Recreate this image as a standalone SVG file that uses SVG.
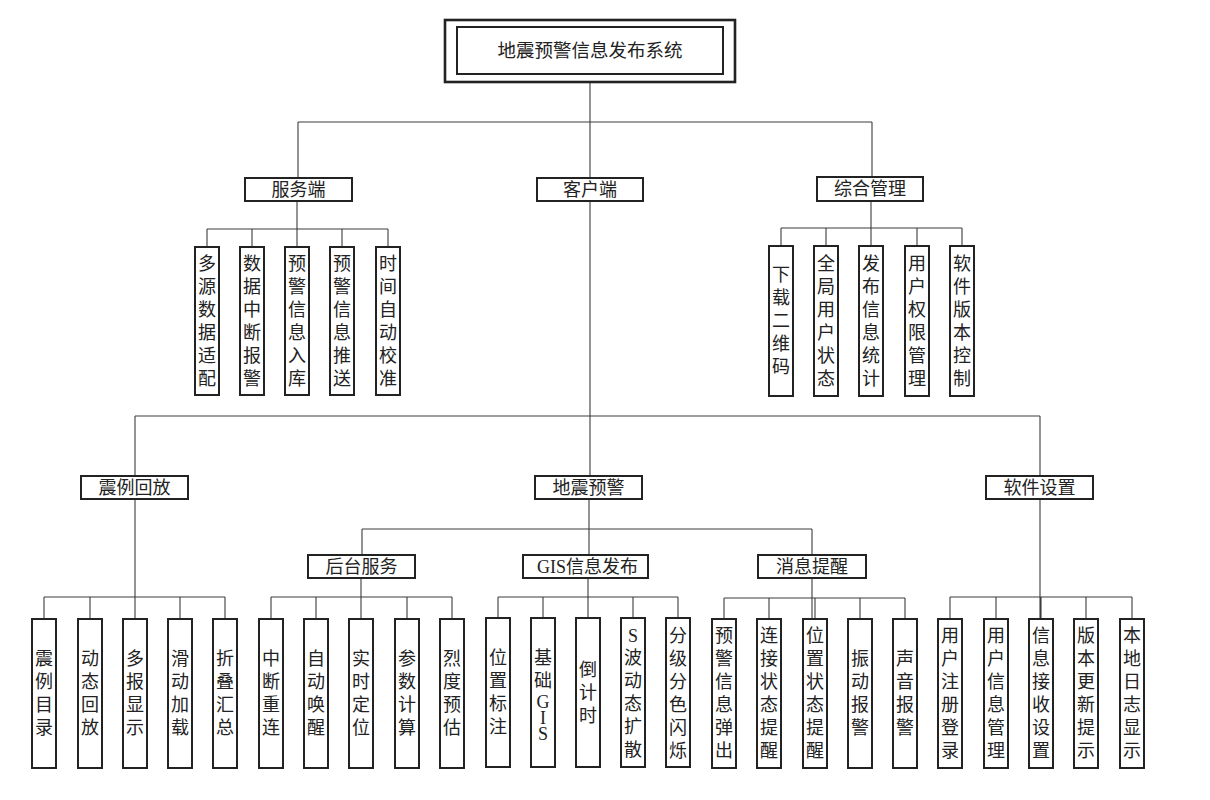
<svg xmlns="http://www.w3.org/2000/svg" width="1210" height="800" viewBox="0 0 1210 800">
<style>
.bg{fill:#ffffff}
.box{fill:#ffffff;stroke:#222222;stroke-width:2}
.outer{fill:#ffffff;stroke:#222222;stroke-width:2.6}
.inner{fill:none;stroke:#222222;stroke-width:2}
.ln{fill:none;stroke:#3c3c3c;stroke-width:1.1}
text{font-family:"Liberation Serif","Noto Sans CJK SC",serif;font-size:18px;fill:#222222;dominant-baseline:central}
.h{text-anchor:middle}
.v{text-anchor:middle}
.t{font-size:18.5px}
</style>
<rect class="bg" x="0" y="0" width="1210" height="800"/>

<g id="connectors">
  <!-- root to level 1 -->
  <path class="ln" d="M590 74V178M298 122H872M298 122V178M872 122V177"/>
  <!-- server -->
  <path class="ln" d="M297 201V247M207 229H388M207 229V247M252 229V247M342 229V247M388 229V247"/>
  <!-- management -->
  <path class="ln" d="M871 201V246M781 228H962M781 228V246M826 228V246M917 228V246M962 228V246"/>
  <!-- client -->
  <path class="ln" d="M590 201V476M135 416H1040M135 416V476M1040 416V476"/>
  <!-- replay -->
  <path class="ln" d="M135 499V619M44 597H225M44 597V619M90 597V619M180 597V619M225 597V619"/>
  <!-- warning -->
  <path class="ln" d="M589 499V555M362 529H812M362 529V555M812 529V555"/>
  <!-- backend -->
  <path class="ln" d="M361 578V619M271 597H452M271 597V619M316 597V619M407 597V619M452 597V619"/>
  <!-- GIS -->
  <path class="ln" d="M588 578V618M498 597H678M498 597V618M543 597V618M633 597V618M678 597V618"/>
  <!-- message -->
  <path class="ln" d="M812 578V619M724 598H905M724 598V619M769 598V619M815 598V619M860 598V619M905 598V619"/>
  <!-- settings -->
  <path class="ln" d="M1040 499V619M950 597H1132M950 597V619M996 597V619M1041 597V619M1086 597V619M1132 597V619"/>
</g>

<g id="root">
  <rect class="outer" x="445" y="20" width="290" height="62"/>
  <rect class="inner" x="457" y="27" width="266" height="47"/>
  <text class="h t" x="590" y="51">地震预警信息发布系统</text>
</g>

<g id="server">
  <rect class="box" x="245" y="178" width="107" height="23"/>
  <text class="h" x="298.5" y="189.5">服务端</text>
</g>
<g id="client">
  <rect class="box" x="537" y="178" width="106" height="23"/>
  <text class="h" x="590" y="189.5">客户端</text>
</g>
<g id="management">
  <rect class="box" x="817" y="177" width="106" height="24"/>
  <text class="h" x="870" y="189">综合管理</text>
</g>

<g id="s1"><rect class="box" x="195" y="247" width="24" height="148"/><text class="v"><tspan x="207" y="263.5">多</tspan><tspan x="207" y="286.5">源</tspan><tspan x="207" y="309.5">数</tspan><tspan x="207" y="332.5">据</tspan><tspan x="207" y="355.5">适</tspan><tspan x="207" y="378.5">配</tspan></text></g>
<g id="s2"><rect class="box" x="240" y="247" width="24" height="148"/><text class="v"><tspan x="252" y="263.5">数</tspan><tspan x="252" y="286.5">据</tspan><tspan x="252" y="309.5">中</tspan><tspan x="252" y="332.5">断</tspan><tspan x="252" y="355.5">报</tspan><tspan x="252" y="378.5">警</tspan></text></g>
<g id="s3"><rect class="box" x="285" y="247" width="24" height="148"/><text class="v"><tspan x="297" y="263.5">预</tspan><tspan x="297" y="286.5">警</tspan><tspan x="297" y="309.5">信</tspan><tspan x="297" y="332.5">息</tspan><tspan x="297" y="355.5">入</tspan><tspan x="297" y="378.5">库</tspan></text></g>
<g id="s4"><rect class="box" x="330" y="247" width="24" height="148"/><text class="v"><tspan x="342" y="263.5">预</tspan><tspan x="342" y="286.5">警</tspan><tspan x="342" y="309.5">信</tspan><tspan x="342" y="332.5">息</tspan><tspan x="342" y="355.5">推</tspan><tspan x="342" y="378.5">送</tspan></text></g>
<g id="s5"><rect class="box" x="376" y="247" width="24" height="148"/><text class="v"><tspan x="388" y="263.5">时</tspan><tspan x="388" y="286.5">间</tspan><tspan x="388" y="309.5">自</tspan><tspan x="388" y="332.5">动</tspan><tspan x="388" y="355.5">校</tspan><tspan x="388" y="378.5">准</tspan></text></g>

<g id="m1"><rect class="box" x="769" y="246" width="24" height="150"/><text class="v"><tspan x="781" y="275">下</tspan><tspan x="781" y="298">载</tspan><tspan x="781" y="321">二</tspan><tspan x="781" y="344">维</tspan><tspan x="781" y="367">码</tspan></text></g>
<g id="m2"><rect class="box" x="814" y="246" width="24" height="150"/><text class="v"><tspan x="826" y="263.5">全</tspan><tspan x="826" y="286.5">局</tspan><tspan x="826" y="309.5">用</tspan><tspan x="826" y="332.5">户</tspan><tspan x="826" y="355.5">状</tspan><tspan x="826" y="378.5">态</tspan></text></g>
<g id="m3"><rect class="box" x="859" y="246" width="24" height="150"/><text class="v"><tspan x="871" y="263.5">发</tspan><tspan x="871" y="286.5">布</tspan><tspan x="871" y="309.5">信</tspan><tspan x="871" y="332.5">息</tspan><tspan x="871" y="355.5">统</tspan><tspan x="871" y="378.5">计</tspan></text></g>
<g id="m4"><rect class="box" x="905" y="246" width="24" height="150"/><text class="v"><tspan x="917" y="263.5">用</tspan><tspan x="917" y="286.5">户</tspan><tspan x="917" y="309.5">权</tspan><tspan x="917" y="332.5">限</tspan><tspan x="917" y="355.5">管</tspan><tspan x="917" y="378.5">理</tspan></text></g>
<g id="m5"><rect class="box" x="950" y="246" width="24" height="150"/><text class="v"><tspan x="962" y="263.5">软</tspan><tspan x="962" y="286.5">件</tspan><tspan x="962" y="309.5">版</tspan><tspan x="962" y="332.5">本</tspan><tspan x="962" y="355.5">控</tspan><tspan x="962" y="378.5">制</tspan></text></g>

<g id="replay">
  <rect class="box" x="81" y="476" width="107" height="23"/>
  <text class="h" x="134.5" y="487.5">震例回放</text>
</g>
<g id="warning">
  <rect class="box" x="535" y="476" width="107" height="23"/>
  <text class="h" x="588.5" y="487.5">地震预警</text>
</g>
<g id="settings">
  <rect class="box" x="986" y="476" width="107" height="23"/>
  <text class="h" x="1039.5" y="487.5">软件设置</text>
</g>

<g id="backend">
  <rect class="box" x="308" y="555" width="107" height="23"/>
  <text class="h" x="361.5" y="566.5">后台服务</text>
</g>
<g id="gis">
  <rect class="box" x="523" y="555" width="125" height="23"/>
  <text class="h" x="587.5" y="566.5">GIS信息发布</text>
</g>
<g id="message">
  <rect class="box" x="758" y="555" width="108" height="23"/>
  <text class="h" x="812" y="566.5">消息提醒</text>
</g>

<g id="r1"><rect class="box" x="32" y="619" width="24" height="149"/><text class="v"><tspan x="44" y="659">震</tspan><tspan x="44" y="682">例</tspan><tspan x="44" y="705">目</tspan><tspan x="44" y="728">录</tspan></text></g>
<g id="r2"><rect class="box" x="78" y="619" width="24" height="149"/><text class="v"><tspan x="90" y="659">动</tspan><tspan x="90" y="682">态</tspan><tspan x="90" y="705">回</tspan><tspan x="90" y="728">放</tspan></text></g>
<g id="r3"><rect class="box" x="123" y="619" width="24" height="149"/><text class="v"><tspan x="135" y="659">多</tspan><tspan x="135" y="682">报</tspan><tspan x="135" y="705">显</tspan><tspan x="135" y="728">示</tspan></text></g>
<g id="r4"><rect class="box" x="168" y="619" width="24" height="149"/><text class="v"><tspan x="180" y="659">滑</tspan><tspan x="180" y="682">动</tspan><tspan x="180" y="705">加</tspan><tspan x="180" y="728">载</tspan></text></g>
<g id="r5"><rect class="box" x="213" y="619" width="24" height="149"/><text class="v"><tspan x="225" y="659">折</tspan><tspan x="225" y="682">叠</tspan><tspan x="225" y="705">汇</tspan><tspan x="225" y="728">总</tspan></text></g>

<g id="b1"><rect class="box" x="259" y="619" width="24" height="149"/><text class="v"><tspan x="271" y="659">中</tspan><tspan x="271" y="682">断</tspan><tspan x="271" y="705">重</tspan><tspan x="271" y="728">连</tspan></text></g>
<g id="b2"><rect class="box" x="304" y="619" width="24" height="149"/><text class="v"><tspan x="316" y="659">自</tspan><tspan x="316" y="682">动</tspan><tspan x="316" y="705">唤</tspan><tspan x="316" y="728">醒</tspan></text></g>
<g id="b3"><rect class="box" x="349" y="619" width="24" height="149"/><text class="v"><tspan x="361" y="659">实</tspan><tspan x="361" y="682">时</tspan><tspan x="361" y="705">定</tspan><tspan x="361" y="728">位</tspan></text></g>
<g id="b4"><rect class="box" x="395" y="619" width="24" height="149"/><text class="v"><tspan x="407" y="659">参</tspan><tspan x="407" y="682">数</tspan><tspan x="407" y="705">计</tspan><tspan x="407" y="728">算</tspan></text></g>
<g id="b5"><rect class="box" x="440" y="619" width="24" height="149"/><text class="v"><tspan x="452" y="659">烈</tspan><tspan x="452" y="682">度</tspan><tspan x="452" y="705">预</tspan><tspan x="452" y="728">估</tspan></text></g>

<g id="g1"><rect class="box" x="486" y="618" width="24" height="149"/><text class="v"><tspan x="498" y="658">位</tspan><tspan x="498" y="681">置</tspan><tspan x="498" y="704">标</tspan><tspan x="498" y="727">注</tspan></text></g>
<g id="g2"><rect class="box" x="531" y="618" width="24" height="149"/><text class="v"><tspan x="543" y="658">基</tspan><tspan x="543" y="681">础</tspan><tspan x="543" y="702">G</tspan><tspan x="543" y="718">I</tspan><tspan x="543" y="734">S</tspan></text></g>
<g id="g3"><rect class="box" x="576" y="618" width="24" height="149"/><text class="v"><tspan x="588" y="670">倒</tspan><tspan x="588" y="693">计</tspan><tspan x="588" y="716">时</tspan></text></g>
<g id="g4"><rect class="box" x="621" y="618" width="24" height="149"/><text class="v"><tspan x="633" y="636">S</tspan><tspan x="633" y="658">波</tspan><tspan x="633" y="681">动</tspan><tspan x="633" y="704">态</tspan><tspan x="633" y="727">扩</tspan><tspan x="633" y="750">散</tspan></text></g>
<g id="g5"><rect class="box" x="666" y="618" width="24" height="149"/><text class="v"><tspan x="678" y="636">分</tspan><tspan x="678" y="659">级</tspan><tspan x="678" y="682">分</tspan><tspan x="678" y="705">色</tspan><tspan x="678" y="728">闪</tspan><tspan x="678" y="751">烁</tspan></text></g>

<g id="x1"><rect class="box" x="712" y="619" width="24" height="149"/><text class="v"><tspan x="724" y="636">预</tspan><tspan x="724" y="659">警</tspan><tspan x="724" y="682">信</tspan><tspan x="724" y="705">息</tspan><tspan x="724" y="728">弹</tspan><tspan x="724" y="751">出</tspan></text></g>
<g id="x2"><rect class="box" x="757" y="619" width="24" height="149"/><text class="v"><tspan x="769" y="636">连</tspan><tspan x="769" y="659">接</tspan><tspan x="769" y="682">状</tspan><tspan x="769" y="705">态</tspan><tspan x="769" y="728">提</tspan><tspan x="769" y="751">醒</tspan></text></g>
<g id="x3"><rect class="box" x="803" y="619" width="24" height="149"/><text class="v"><tspan x="815" y="636">位</tspan><tspan x="815" y="659">置</tspan><tspan x="815" y="682">状</tspan><tspan x="815" y="705">态</tspan><tspan x="815" y="728">提</tspan><tspan x="815" y="751">醒</tspan></text></g>
<g id="x4"><rect class="box" x="848" y="619" width="24" height="149"/><text class="v"><tspan x="860" y="659">振</tspan><tspan x="860" y="682">动</tspan><tspan x="860" y="705">报</tspan><tspan x="860" y="728">警</tspan></text></g>
<g id="x5"><rect class="box" x="893" y="619" width="24" height="149"/><text class="v"><tspan x="905" y="659">声</tspan><tspan x="905" y="682">音</tspan><tspan x="905" y="705">报</tspan><tspan x="905" y="728">警</tspan></text></g>

<g id="e1"><rect class="box" x="938" y="619" width="24" height="149"/><text class="v"><tspan x="950" y="636">用</tspan><tspan x="950" y="659">户</tspan><tspan x="950" y="682">注</tspan><tspan x="950" y="705">册</tspan><tspan x="950" y="728">登</tspan><tspan x="950" y="751">录</tspan></text></g>
<g id="e2"><rect class="box" x="984" y="619" width="24" height="149"/><text class="v"><tspan x="996" y="636">用</tspan><tspan x="996" y="659">户</tspan><tspan x="996" y="682">信</tspan><tspan x="996" y="705">息</tspan><tspan x="996" y="728">管</tspan><tspan x="996" y="751">理</tspan></text></g>
<g id="e3"><rect class="box" x="1029" y="619" width="24" height="149"/><text class="v"><tspan x="1041" y="636">信</tspan><tspan x="1041" y="659">息</tspan><tspan x="1041" y="682">接</tspan><tspan x="1041" y="705">收</tspan><tspan x="1041" y="728">设</tspan><tspan x="1041" y="751">置</tspan></text></g>
<g id="e4"><rect class="box" x="1074" y="619" width="24" height="149"/><text class="v"><tspan x="1086" y="636">版</tspan><tspan x="1086" y="659">本</tspan><tspan x="1086" y="682">更</tspan><tspan x="1086" y="705">新</tspan><tspan x="1086" y="728">提</tspan><tspan x="1086" y="751">示</tspan></text></g>
<g id="e5"><rect class="box" x="1120" y="619" width="24" height="149"/><text class="v"><tspan x="1132" y="636">本</tspan><tspan x="1132" y="659">地</tspan><tspan x="1132" y="682">日</tspan><tspan x="1132" y="705">志</tspan><tspan x="1132" y="728">显</tspan><tspan x="1132" y="751">示</tspan></text></g>
</svg>
